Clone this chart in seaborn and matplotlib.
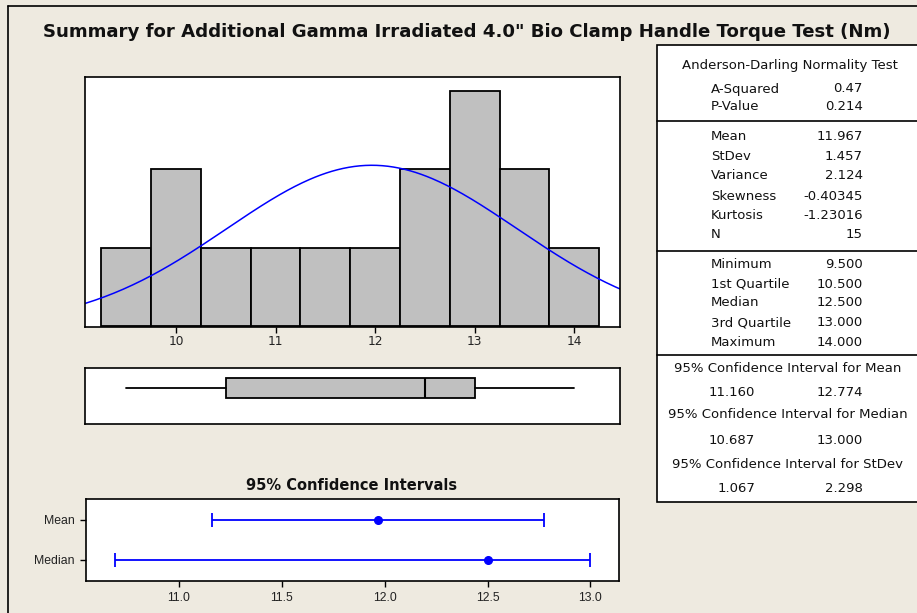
import numpy as np
import pandas as pd
import matplotlib
matplotlib.use("Agg")
import matplotlib.pyplot as plt
from matplotlib.patches import Rectangle
from matplotlib.lines import Line2D
from matplotlib import font_manager
import seaborn as sns

# ---------------- data ----------------
torque = [9.5, 10.0, 10.0, 10.5, 11.0, 11.5, 12.0, 12.5, 12.5,
          13.0, 13.0, 13.0, 13.5, 13.5, 14.0]
hist_ticks = [10, 11, 12, 13, 14]

mean_val = 11.967
stdev_val = 1.457

box_min, box_q1, box_med, box_q3, box_max = 9.5, 10.5, 12.5, 13.0, 14.0

ci_labels = ["Mean", "Median"]
ci_centers = [11.967, 12.5]
ci_lows = [11.160, 10.687]
ci_highs = [12.774, 13.000]
ci_ticks = [11.0, 11.5, 12.0, 12.5, 13.0]

ad_labels = ["A-Squared", "P-Value"]
ad_values = ["0.47", "0.214"]
moment_labels = ["Mean", "StDev", "Variance", "Skewness", "Kurtosis", "N"]
moment_values = ["11.967", "1.457", "2.124", "-0.40345", "-1.23016", "15"]
quant_labels = ["Minimum", "1st Quartile", "Median", "3rd Quartile", "Maximum"]
quant_values = ["9.500", "10.500", "12.500", "13.000", "14.000"]
ci_headers = ["95% Confidence Interval for Mean",
              "95% Confidence Interval for Median",
              "95% Confidence Interval for StDev"]
ci_table_lo = ["11.160", "10.687", "1.067"]
ci_table_hi = ["12.774", "13.000", "2.298"]

title = 'Summary for Additional Gamma Irradiated 4.0" Bio Clamp Handle Torque Test (Nm)'

# ---------------- style ----------------
sns.set_style("white")
BG = "#EEEAE0"
plt.rcParams["font.family"] = ["DejaVu Sans"]
plt.rcParams["axes.linewidth"] = 1.2
plt.rcParams["axes.edgecolor"] = "black"

avail = {f.name for f in font_manager.fontManager.ttflist}
narrow = "Liberation Sans Narrow" if "Liberation Sans Narrow" in avail else "Liberation Sans"

W, H = 917, 613
fig = plt.figure(figsize=(W / 100, H / 100), dpi=100, facecolor=BG)


def fx(px):
    return px / W


def fy(py):
    return 1 - py / H


def add_axes(x0, y0, x1, y1):
    ax = fig.add_axes([fx(x0), fy(y1), fx(x1) - fx(x0), fy(y0) - fy(y1)])
    ax.set_facecolor("white")
    for s in ax.spines.values():
        s.set_visible(True)
        s.set_color("black")
        s.set_linewidth(1.2)
    return ax


# outer frame
fig.add_artist(Line2D([fx(8), fx(8)], [fy(6), fy(700)], color="black", lw=1.2,
                      transform=fig.transFigure))
fig.add_artist(Line2D([fx(8), fx(1000)], [fy(6), fy(6)], color="black", lw=1.2,
                      transform=fig.transFigure))

# title
fig.text(fx(467), fy(32), title, ha="center", va="center", fontsize=13.05,
         fontweight="bold", color="#111111")

# ---------------- histogram ----------------
ax1 = add_axes(85, 77, 620, 327)
df = pd.DataFrame({"torque": torque})
sns.histplot(data=df, x="torque", bins=np.arange(9.25, 14.3, 0.5), ax=ax1,
             color="#C0C0C0", edgecolor="black", linewidth=1.3, alpha=1)
xs = np.linspace(9.0, 14.6, 300)
ys = len(torque) * 0.5 * np.exp(-0.5 * ((xs - mean_val) / stdev_val) ** 2) / (stdev_val * np.sqrt(2 * np.pi))
sns.lineplot(x=xs, y=ys, ax=ax1, color="#0000FF", linewidth=1.1)
ax1.set_xlim(9.085, 14.46)
ax1.set_ylim(-0.01, 3.18)
ax1.set_xticks(hist_ticks)
ax1.set_xticklabels([str(t) for t in hist_ticks])
ax1.set_yticks([])
ax1.set_xlabel("")
ax1.set_ylabel("")
ax1.tick_params(axis="x", bottom=True, length=4, width=1, color="black",
                labelsize=8.8, labelcolor="#222222", pad=2)

# ---------------- boxplot ----------------
ax2 = add_axes(85, 368, 620, 424)
stats = [{"whislo": box_min, "q1": box_q1, "med": box_med, "q3": box_q3,
          "whishi": box_max, "fliers": []}]
ax2.bxp(stats, positions=[0.643], widths=0.357, vert=False, patch_artist=True,
        showcaps=False,
        boxprops=dict(facecolor="#C0C0C0", edgecolor="black", linewidth=1.3),
        medianprops=dict(color="black", linewidth=1.5),
        whiskerprops=dict(color="black", linewidth=1.3))
ax2.set_xlim(9.085, 14.46)
ax2.set_ylim(0, 1)
ax2.set_xticks([])
ax2.set_yticks([])

# ---------------- confidence intervals ----------------
fig.text(fx(352), fy(486), "95% Confidence Intervals", ha="center", va="center",
         fontsize=10.5, fontweight="bold", color="#111111")
ax3 = add_axes(86, 499, 619, 581)
ypos = np.arange(len(ci_labels))
xerr = [np.array(ci_centers) - np.array(ci_lows), np.array(ci_highs) - np.array(ci_centers)]
ax3.errorbar(ci_centers, ypos, xerr=xerr, fmt="o", color="#0000FF", ecolor="#0000FF",
             elinewidth=1.3, capsize=5, capthick=1.3, markersize=5.5)
ax3.set_xlim(10.548, 13.139)
ax3.set_ylim(1.525, -0.525)
ax3.set_yticks(ypos)
ax3.set_yticklabels(ci_labels, fontfamily=narrow)
ax3.set_xticks(ci_ticks)
ax3.set_xticklabels([f"{t:.1f}" for t in ci_ticks], fontfamily=narrow)
ax3.tick_params(axis="both", bottom=True, left=True, length=4, width=1,
                color="black", labelsize=8.8, labelcolor="#222222", pad=4)

# ---------------- statistics table ----------------
fig.add_artist(Rectangle((fx(657), fy(502)), fx(1000) - fx(657), fy(45) - fy(502),
                         facecolor="white", edgecolor="black", lw=1.2,
                         transform=fig.transFigure, zorder=0))
for yl in [121, 251, 355]:
    fig.add_artist(Line2D([fx(657), fx(1000)], [fy(yl), fy(yl)], color="black",
                          lw=1.2, transform=fig.transFigure))

tfs = 9.5
tcol = "#111111"
LX, RX = 711, 863
fig.text(fx(790), fy(66), "Anderson-Darling Normality Test", ha="center", va="center",
         fontsize=tfs, color=tcol)
for lab, val, y in zip(ad_labels, ad_values, [89, 107]):
    fig.text(fx(LX), fy(y), lab, ha="left", va="center", fontsize=tfs, color=tcol)
    fig.text(fx(RX), fy(y), val, ha="right", va="center", fontsize=tfs, color=tcol)
for lab, val, y in zip(moment_labels, moment_values, [137, 157, 176, 196, 216, 235]):
    fig.text(fx(LX), fy(y), lab, ha="left", va="center", fontsize=tfs, color=tcol)
    fig.text(fx(RX), fy(y), val, ha="right", va="center", fontsize=tfs, color=tcol)
for lab, val, y in zip(quant_labels, quant_values, [265, 284, 303, 323, 343]):
    fig.text(fx(LX), fy(y), lab, ha="left", va="center", fontsize=tfs, color=tcol)
    fig.text(fx(RX), fy(y), val, ha="right", va="center", fontsize=tfs, color=tcol)
for hdr, lo, hi, yh, yv in zip(ci_headers, ci_table_lo, ci_table_hi,
                               [368, 415, 465], [392, 440, 489]):
    fig.text(fx(788), fy(yh), hdr, ha="center", va="center", fontsize=tfs, color=tcol)
    fig.text(fx(755), fy(yv), lo, ha="right", va="center", fontsize=tfs, color=tcol)
    fig.text(fx(RX), fy(yv), hi, ha="right", va="center", fontsize=tfs, color=tcol)

fig.savefig("out.png", dpi=100, facecolor=BG)
